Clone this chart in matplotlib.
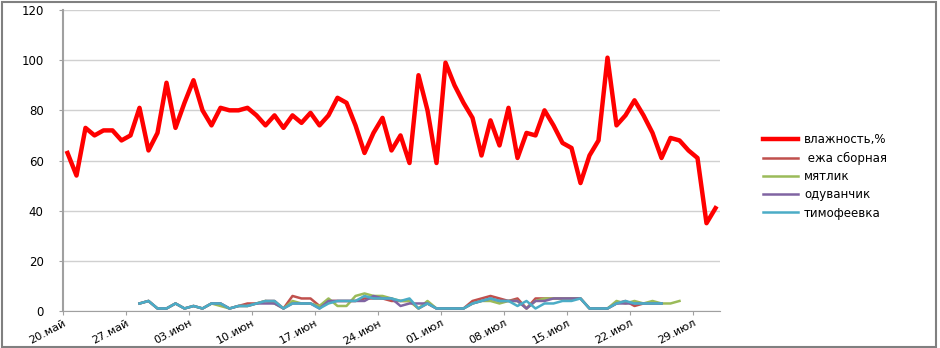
import numpy as np
import matplotlib
matplotlib.use('Agg')
from matplotlib import pyplot as plt
from matplotlib.patches import Rectangle

# days from 20 May (day 0) to 31 Jul (day 72)
start_date = '2013-05-20'
n_days = 73

humidity = [63, 54, 73, 70, 72, 72, 68, 70, 81, 64, 71, 91, 73, 83, 92, 80, 74, 81,
            80, 80, 81, 78, 74, 78, 73, 78, 75, 79, 74, 78, 85, 83, 74, 63, 71, 77,
            64, 70, 59, 94, 80, 59, 99, 90, 83, 77, 62, 76, 66, 81, 61, 71, 70, 80,
            74, 67, 65, 51, 62, 68, 101, 74, 78, 84, 78, 71, 61, 69, 68, 64, 61, 35, 41]

# pollen series start on day 8
pollen_start = 8
eja = [3, 4, 1, 1, 3, 1, 2, 1, 3, 3, 1, 2, 3, 3, 4, 4, 1, 6, 5, 5, 2, 4, 4, 4, 4, 5,
       5, 5, 4, 4, 4, 1, 3, 1, 1, 1, 1, 4, 5, 6, 5, 4, 5, 1, 5, 5, 5, 5, 5, 5, 1, 1,
       1, 3, 4, 2, 3, 3, 3]
myatlik = [3, 4, 1, 1, 3, 1, 2, 1, 3, 2, 1, 2, 2, 3, 4, 3, 1, 4, 3, 3, 2, 5, 2, 2, 6, 7,
           6, 6, 5, 4, 4, 1, 4, 1, 1, 1, 1, 3, 4, 4, 3, 4, 4, 1, 4, 5, 5, 5, 5, 5, 1, 1,
           1, 4, 3, 4, 3, 4, 3, 3, 4]
oduvanchik = [3, 4, 1, 1, 3, 1, 2, 1, 3, 3, 1, 2, 2, 3, 3, 3, 1, 3, 3, 3, 1, 4, 4, 4, 4, 4,
              6, 5, 5, 2, 3, 3, 3, 1, 1, 1, 1, 3, 4, 5, 4, 4, 4, 1, 4, 4, 5, 5, 5, 5, 1, 1,
              1, 3, 3, 3, 3, 3, 3]
timofeevka = [3, 4, 1, 1, 3, 1, 2, 1, 3, 3, 1, 2, 2, 3, 4, 4, 1, 3, 3, 3, 1, 3, 4, 4, 4, 6,
              5, 5, 5, 4, 5, 1, 3, 1, 1, 1, 1, 3, 4, 5, 4, 4, 2, 4, 1, 3, 3, 4, 4, 5, 1, 1,
              1, 3, 4, 3, 3, 3, 3]

series_names = ['влажность,%', ' ежа сборная', 'мятлик', 'одуванчик', 'тимофеевка']
tick_labels = ['20.май', '27.май', '03.июн', '10.июн', '17.июн', '24.июн',
               '01.июл', '08.июл', '15.июл', '22.июл', '29.июл']


def main():
    days = np.arange(np.datetime64(start_date), np.datetime64(start_date) + n_days)
    # Excel puts each point in the middle of its day
    x = days.astype('datetime64[h]') + 12

    fig = plt.figure(figsize=(9.4, 3.48), dpi=100)
    ax = fig.add_axes([63 / 940, 37 / 348, 657 / 940, 301 / 348])

    ax.plot(x, humidity, color='#ff0000', lw=3.2, label=series_names[0], zorder=3)
    colors = ['#c0504d', '#9bbb59', '#8064a2', '#4bacc6']
    for vals, c, name in zip([eja, myatlik, oduvanchik, timofeevka], colors, series_names[1:]):
        xs = x[pollen_start:pollen_start + len(vals)]
        ax.plot(xs, vals, color=c, lw=1.8, label=name, zorder=2)

    ax.set_xlim(days[0], days[-1] + 1)
    ax.set_ylim(0, 120)
    ax.set_yticks(range(0, 121, 20))
    ax.set_xticks(days[::7])
    ax.set_xticklabels(tick_labels, rotation=28, ha='right', va='top', rotation_mode='anchor')
    ax.tick_params(axis='x', labelsize=8, length=3, color='#a0a0a0', pad=2)
    ax.tick_params(axis='y', labelsize=8.5, length=3, color='#a0a0a0', pad=11)
    ax.yaxis.grid(True, color='#d0d0d0', lw=1)
    ax.set_axisbelow(True)
    for side in ['top', 'right']:
        ax.spines[side].set_visible(False)
    ax.spines['left'].set_color('#a0a0a0')
    ax.spines['bottom'].set_color('#a0a0a0')
    ax.spines['left'].set_linewidth(1.5)

    ax.legend(loc='center left', bbox_to_anchor=(752 / 940, 0.493), bbox_transform=fig.transFigure,
              frameon=False, fontsize=8.5, handlelength=3.0, labelspacing=0.45,
              handletextpad=0.5)

    fig.patches.append(Rectangle((0.002, 0.004), 0.994, 0.99, transform=fig.transFigure,
                                 fill=False, edgecolor='#808080', lw=1.5))
    fig.savefig('out.png', dpi=100)


if __name__ == '__main__':
    main()
